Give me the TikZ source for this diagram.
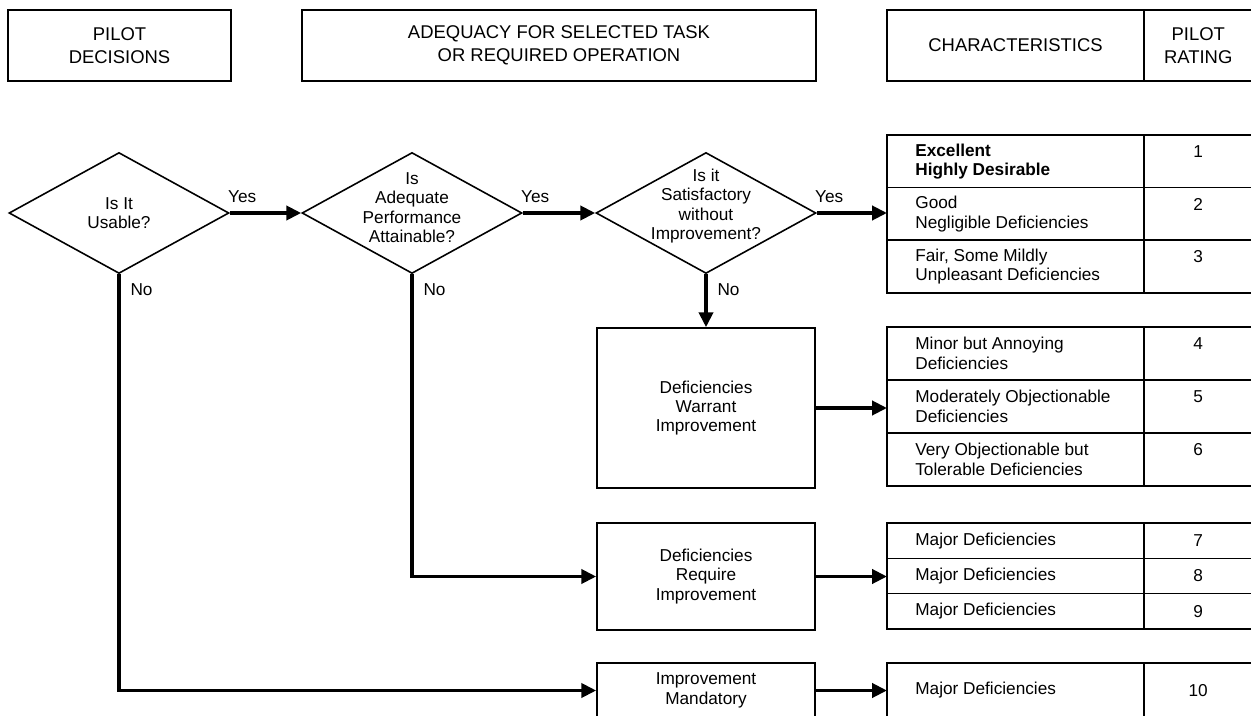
\documentclass[tikz,border=0pt]{standalone}
\usepackage{fontspec}
\setmainfont{Liberation Sans}
\usetikzlibrary{positioning,arrows.meta,shapes.geometric}

\begin{document}
\begin{tikzpicture}[x=0.02cm, y=-0.02cm, >={Triangle[length=8.5pt,width=8pt]},
      font=\fontsize{9.8}{11}\selectfont,
      hdr/.style={draw, line width=0.9pt, outer sep=0pt, inner sep=0pt, minimum height=1.42cm,
        align=center, font=\fontsize{10.5}{13}\selectfont},
      dec/.style={diamond, draw, line width=0.9pt, inner sep=0pt, minimum width=4.4cm, minimum height=2.42cm},
      qtxt/.style={align=center, inner sep=0pt},
      act/.style={draw, line width=0.9pt, minimum width=4.36cm, align=center},
      cell/.style={draw, line width=0.9pt, outer sep=0pt, inner sep=0pt, minimum width=5.14cm},
      num/.style={draw, line width=0.9pt, outer sep=0pt, inner sep=0pt, minimum width=2.17cm, align=center},
      txt/.style={align=left, inner sep=0pt},
      flow/.style={line width=2.1pt},
      lab/.style={inner sep=0pt}]
      \path[use as bounding box, fill=white] (0,0) rectangle (1251,716);

      % column heads
      \node[hdr, minimum width=4.46cm] (hdec) at (119.5,45.5) {PILOT\\DECISIONS};
      \node[hdr, minimum width=10.28cm] (hadq) at (559,45.5) {ADEQUACY FOR SELECTED TASK\\OR REQUIRED OPERATION};
      \node[hdr, minimum width=5.14cm] (hchar) at (1015.5,45.5) {CHARACTERISTICS};
      \node[hdr, minimum width=2.17cm, right=0pt of hchar] (hrate) {PILOT\\RATING};

      % decisions
      \node[dec] (d1) at (119,213) {};
      \node[qtxt] (q1) at (d1) {Is It\\Usable?};
      \node[dec] (d2) at (412,213) {};
      \node[qtxt] (q2) at ([yshift=3pt]d2.center) {Is\\Adequate\\Performance\\Attainable?};
      \node[dec] (d3) at (706,213) {};
      \node[qtxt] (q3) at ([yshift=4pt]d3.center) {Is it\\Satisfactory\\without\\Improvement?};

      % adequacy boxes
      \node[act, minimum height=3.2cm] (bw) at (706,408) {Deficiencies\\Warrant\\Improvement};
      \node[act, minimum height=2.14cm] (br) at (706,576.5) {Deficiencies\\Require\\Improvement};
      \node[act, minimum height=1.1cm] (bm) at (706,690.5) {Improvement\\Mandatory};

      % ratings 1-3
      \node[cell, minimum height=1.053cm, anchor=north west] (c1) at (887,135) {};
      \node[cell, minimum height=1.053cm, below=0pt of c1] (c2) {};
      \node[cell, minimum height=1.053cm, below=0pt of c2] (c3) {};
      \node[txt, font=\fontsize{9.8}{11}\selectfont\bfseries, right=0.56cm of c1.west] (t1) {Excellent\\Highly Desirable};
      \node[txt, right=0.56cm of c2.west] (t2) {Good\\Negligible Deficiencies};
      \node[txt, right=0.56cm of c3.west] (t3) {Fair, Some Mildly\\Unpleasant Deficiencies};
      \node[num, minimum height=1.053cm, right=0pt of c1] (n1) {1\\\mbox{}};
      \node[num, minimum height=1.053cm, right=0pt of c2] (n2) {2\\\mbox{}};
      \node[num, minimum height=1.053cm, right=0pt of c3] (n3) {3\\\mbox{}};

      % ratings 4-6
      \node[cell, minimum height=1.06cm, anchor=north west] (c4) at (887,327) {};
      \node[cell, minimum height=1.06cm, below=0pt of c4] (c5) {};
      \node[cell, minimum height=1.06cm, below=0pt of c5] (c6) {};
      \node[txt, right=0.56cm of c4.west] (t4) {Minor but Annoying\\Deficiencies};
      \node[txt, right=0.56cm of c5.west] (t5) {Moderately Objectionable\\Deficiencies};
      \node[txt, right=0.56cm of c6.west] (t6) {Very Objectionable but\\Tolerable Deficiencies};
      \node[num, minimum height=1.06cm, right=0pt of c4] (n4) {4\\\mbox{}};
      \node[num, minimum height=1.06cm, right=0pt of c5] (n5) {5\\\mbox{}};
      \node[num, minimum height=1.06cm, right=0pt of c6] (n6) {6\\\mbox{}};

      % ratings 7-9
      \node[cell, minimum height=0.707cm, anchor=north west] (c7) at (887,523) {};
      \node[cell, minimum height=0.707cm, below=0pt of c7] (c8) {};
      \node[cell, minimum height=0.707cm, below=0pt of c8] (c9) {};
      \node[txt, right=0.56cm of c7.west] (t7) {Major Deficiencies};
      \node[txt, right=0.56cm of c8.west] (t8) {Major Deficiencies};
      \node[txt, right=0.56cm of c9.west] (t9) {Major Deficiencies};
      \node[num, minimum height=0.707cm, right=0pt of c7] (n7) {7};
      \node[num, minimum height=0.707cm, right=0pt of c8] (n8) {8};
      \node[num, minimum height=0.707cm, right=0pt of c9] (n9) {9};

      % rating 10
      \node[cell, minimum height=1.1cm, anchor=north west] (c10) at (887,663) {};
      \node[txt, right=0.56cm of c10.west] (t10) {Major Deficiencies};
      \node[num, minimum height=1.1cm, right=0pt of c10] (n10) {10};

      % flow
      \draw[flow, ->] (d1.east) -- node[lab, pos=0, anchor=south west, xshift=-2pt, yshift=5pt] {Yes} (d2.west);
      \draw[flow, ->] (d2.east) -- node[lab, pos=0, anchor=south west, xshift=-2pt, yshift=5pt] {Yes} (d3.west);
      \draw[flow, ->] (d3.east) -- node[lab, pos=0, anchor=south west, xshift=-2pt, yshift=5pt] {Yes} (d3.east -| c2.west);
      \draw[flow, ->] (d3.south) -- node[lab, pos=0, anchor=north west, xshift=5.5pt, yshift=-4.5pt] {No} (bw.north);
      \draw[flow, ->] (d2.south) |- node[lab, pos=0, anchor=north west, xshift=5.5pt, yshift=-4.5pt] {No} (br.west);
      \draw[flow, ->] (d1.south) |- node[lab, pos=0, anchor=north west, xshift=5.5pt, yshift=-4.5pt] {No} (bm.west);
      \draw[flow, ->] (bw.east) -- (bw.east -| c5.west);
      \draw[flow, ->] (br.east) -- (br.east -| c8.west);
      \draw[flow, ->] (bm.east) -- (bm.east -| c10.west);
    \end{tikzpicture}
\end{document}
